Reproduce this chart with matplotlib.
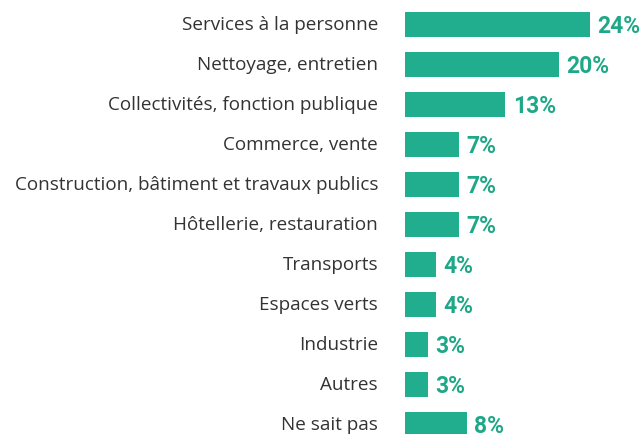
import matplotlib
matplotlib.use("Agg")
import matplotlib.pyplot as plt

categories = [
    "Services à la personne",
    "Nettoyage, entretien",
    "Collectivités, fonction publique",
    "Commerce, vente",
    "Construction, bâtiment et travaux publics",
    "Hôtellerie, restauration",
    "Transports",
    "Espaces verts",
    "Industrie",
    "Autres",
    "Ne sait pas",
]
values = [24, 20, 13, 7, 7, 7, 4, 4, 3, 3, 8]
value_labels = ["24%", "20%", "13%", "7%", "7%", "7%", "4%", "4%", "3%", "3%", "8%"]

BAR = "#20ae8e"
TXT = "#1fa887"

W, H = 644, 435
fig = plt.figure(figsize=(W / 100, H / 100), dpi=100)
x0 = 405
ax = fig.add_axes([x0 / W, 0, 1 - x0 / W, 1])
ax.set_xlim(0, (W - x0) / 7.7)
ax.set_ylim((H - 25.2) / 40, -25.2 / 40)
ax.axis("off")

ypos = list(range(len(categories)))
ax.barh(ypos, values, height=0.625, color=BAR)

for y, v, lab, cat in zip(ypos, values, value_labels, categories):
    ax.annotate(lab, (v, y), xytext=(5.5, -1), textcoords="offset points",
                ha="left", va="center", color=TXT, fontsize=16.5,
                fontweight="bold", family=["Roboto", "DejaVu Sans"],
                annotation_clip=False)
    fig.text(378 / W, 1 - (25.2 + 40 * y) / H, cat, ha="right", va="center",
             color="#333333", fontsize=13.6, family=["Open Sans", "DejaVu Sans"])

fig.savefig("out.png", dpi=100)
